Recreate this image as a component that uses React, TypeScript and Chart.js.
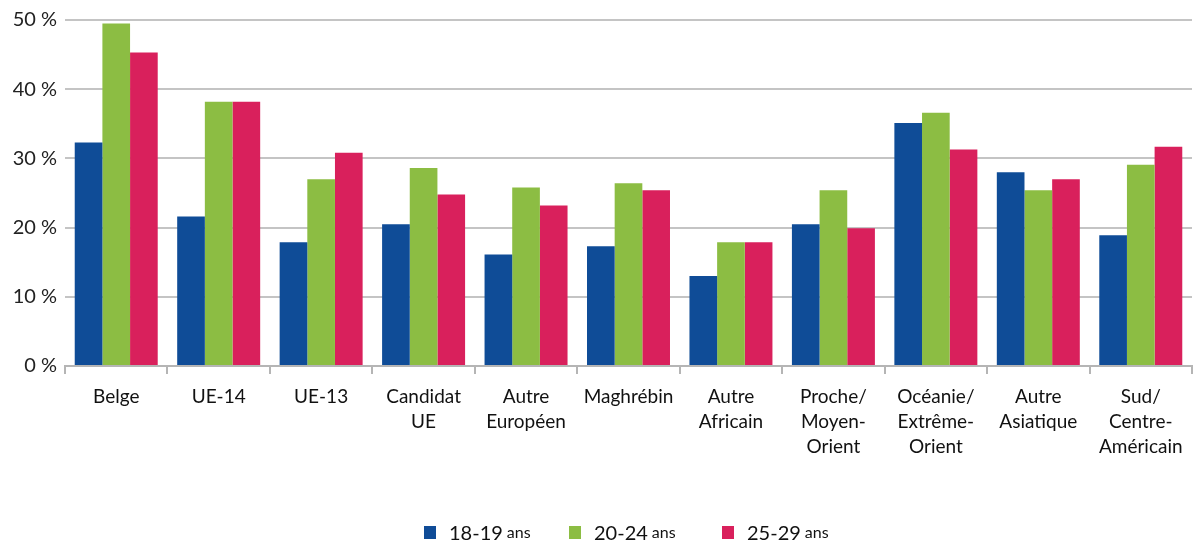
import React, { useEffect, useRef } from "react";
import { Chart, registerables } from "chart.js";

Chart.register(...registerables);

const categories: string[][] = [
  ["Belge"],
  ["UE-14"],
  ["UE-13"],
  ["Candidat", "UE"],
  ["Autre", "Européen"],
  ["Maghrébin"],
  ["Autre", "Africain"],
  ["Proche/", "Moyen-", "Orient"],
  ["Océanie/", "Extrême-", "Orient"],
  ["Autre", "Asiatique"],
  ["Sud/", "Centre-", "Américain"],
];

const seriesNames = ["18-19", "20-24", "25-29"];
const seriesSuffix = "ans";

const age18_19 = [32.3, 21.6, 17.9, 20.5, 16.1, 17.3, 13.0, 20.5, 35.1, 28.0, 18.9];
const age20_24 = [49.5, 38.2, 27.0, 28.6, 25.8, 26.4, 17.9, 25.4, 36.6, 25.4, 29.1];
const age25_29 = [45.3, 38.2, 30.8, 24.8, 23.2, 25.4, 17.9, 19.9, 31.3, 27.0, 31.7];

const colors = ["#0f4c97", "#8cbd43", "#d9205c"];
const yTicks = [0, 10, 20, 30, 40, 50];
const legendLeft = [424, 569, 722];

export default function App() {
  const ref = useRef<HTMLCanvasElement>(null);

  useEffect(() => {
    document.body.style.margin = "0";
    const ctx = ref.current!.getContext("2d")!;
    const chart = new Chart(ctx, {
      type: "bar",
      data: {
        labels: categories,
        datasets: [age18_19, age20_24, age25_29].map((d, i) => ({
          label: seriesNames[i] + " " + seriesSuffix,
          data: d,
          backgroundColor: colors[i],
          borderWidth: 0,
          categoryPercentage: 0.81,
          barPercentage: 1,
        })),
      },
      options: {
        animation: false,
        responsive: false,
        maintainAspectRatio: false,
        layout: { padding: { top: 10, right: 4, bottom: 59, left: 0 } },
        plugins: {
          legend: { display: false },
          tooltip: { enabled: false },
        },
        scales: {
          x: {
            offset: true,
            grid: {
              offset: true,
              drawOnChartArea: false,
              drawTicks: true,
              tickLength: 8,
              color: "#b5b5b5",
              lineWidth: 2,
            },
            border: { color: "#b5b5b5", width: 2 },
            ticks: {
              color: "#111",
              font: { family: "Lato", size: 19, lineHeight: 1.32 },
              padding: 10,
              maxRotation: 0,
              autoSkip: false,
            },
            afterFit: (s: any) => {
              s.height = 120;
            },
          },
          y: {
            min: 0,
            max: 50,
            afterBuildTicks: (s: any) => {
              s.ticks = yTicks.map((v) => ({ value: v }));
            },
            grid: { color: "#c4c4c4", lineWidth: 2, drawTicks: false },
            border: { display: false },
            ticks: {
              color: "#222",
              font: { family: "Lato", size: 20 },
              padding: 8,
              callback: (v: any) => v + " %",
            },
            afterFit: (s: any) => {
              s.width = 65;
            },
          },
        },
      },
    });
    return () => chart.destroy();
  }, []);

  return (
    <div style={{ position: "relative", width: 1196, height: 545 }}>
      <canvas ref={ref} width={1196} height={545} style={{ display: "block" }} />
      {seriesNames.map((n, i) => (
        <div
          key={n}
          style={{
            position: "absolute",
            left: legendLeft[i],
            top: 520,
            display: "flex",
            alignItems: "center",
            fontFamily: "Lato",
            color: "#111",
            whiteSpace: "nowrap",
          }}
        >
          <span
            style={{
              display: "inline-block",
              width: 12,
              height: 13,
              background: colors[i],
              marginRight: 13,
            }}
          />
          <span style={{ fontSize: 20, lineHeight: "24px" }}>{n}</span>
          <span style={{ fontSize: 16, lineHeight: "24px", marginLeft: 4 }}>{seriesSuffix}</span>
        </div>
      ))}
    </div>
  );
}
